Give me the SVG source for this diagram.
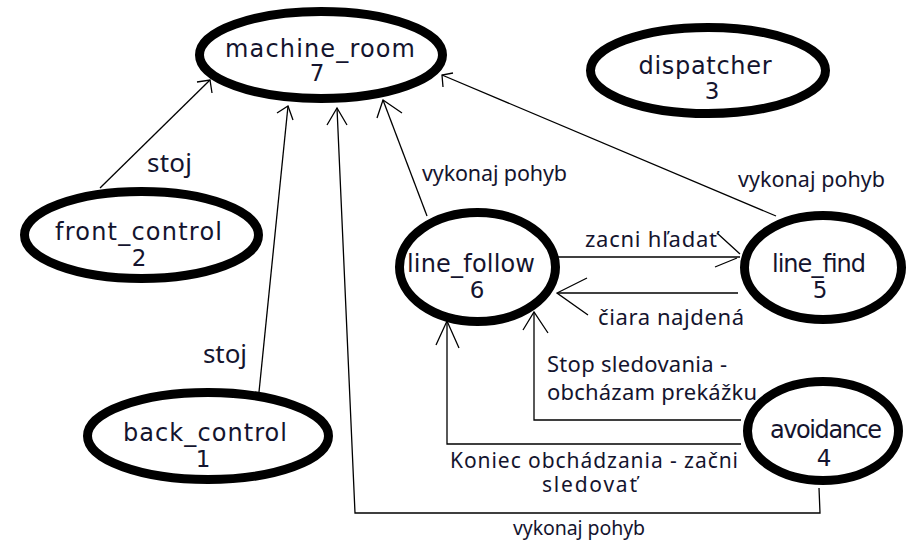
<svg xmlns="http://www.w3.org/2000/svg" width="911" height="540" viewBox="0 0 911 540">
  <style>
    .node { fill: #ffffff; stroke: #000000; stroke-width: 9; }
    .name { font-family: "DejaVu Sans", Verdana, sans-serif; font-size: 24px; fill: #14142e; text-anchor: middle; }
    .num { font-family: "DejaVu Sans", Verdana, sans-serif; font-size: 23px; fill: #14142e; text-anchor: middle; }
    .lbl { font-family: "Noto Sans", "DejaVu Sans", sans-serif; font-size: 22px; fill: #14142e; }
    .lbl.big { font-size: 26px; }
    .lbl.mid { font-size: 21.5px; }
    .lbl.tight { font-size: 21px; }
    .lbl.small { font-size: 19.5px; }
    .edge { fill: none; stroke: #000000; stroke-width: 1.3; }
  </style>
  <rect width="911" height="540" fill="#ffffff"/>

  <!-- connectors -->
  <g id="connectors">
    <!-- front_control -> machine_room -->
    <g id="e-front-machine">
      <path class="edge" d="M100,188 L210,80"/>
      <polyline class="edge" points="197,82 210,80 212,93"/>
      <text class="lbl big" x="147" y="172" textLength="45">stoj</text>
    </g>
    <!-- back_control -> machine_room -->
    <g id="e-back-machine">
      <path class="edge" d="M259,392 L288,106"/>
      <polyline class="edge" points="277,113 288,106 293,120"/>
      <text class="lbl big" x="203" y="363" textLength="44">stoj</text>
    </g>
    <!-- avoidance -> machine_room -->
    <g id="e-avoid-machine">
      <path class="edge" d="M819,488 L820,513 L355,513 L337,108"/>
      <polyline class="edge" points="327,125 337,108 347,125"/>
      <text class="lbl small" x="513" y="535" textLength="132">vykonaj pohyb</text>
    </g>
    <!-- line_follow -> machine_room -->
    <g id="e-follow-machine">
      <path class="edge" d="M427,216 L383,100"/>
      <polyline class="edge" points="377,118 383,100 402,113"/>
      <text class="lbl mid" x="422" y="181" textLength="145">vykonaj pohyb</text>
    </g>
    <!-- line_find -> machine_room -->
    <g id="e-find-machine">
      <path class="edge" d="M776,216 L442,75"/>
      <polyline class="edge" points="453,73 442,75 443,87"/>
      <text class="lbl mid" x="738" y="187" textLength="147">vykonaj pohyb</text>
    </g>
    <!-- line_follow -> line_find -->
    <g id="e-follow-find">
      <path class="edge" d="M558,257 L740,257"/>
      <path class="edge" d="M717,233 L740,254 M715,267 L737,258"/>
      <text class="lbl" x="585" y="247" textLength="132">zacni hľadať</text>
    </g>
    <!-- line_find -> line_follow -->
    <g id="e-find-follow">
      <path class="edge" d="M738,293 L558,293"/>
      <polyline class="edge" points="587,278 557,293 588,315"/>
      <text class="lbl" x="598" y="325" textLength="146">čiara najdená</text>
    </g>
    <!-- avoidance -> line_follow (stop) -->
    <g id="e-avoid-follow-stop">
      <path class="edge" d="M741,420 L534,420 L534,313"/>
      <polyline class="edge" points="523,330 534,312 548,333"/>
      <text class="lbl" x="547" y="372" textLength="180">Stop sledovania -</text>
      <text class="lbl" x="547" y="400" textLength="210">obcházam prekážku</text>
    </g>
    <!-- avoidance -> line_follow (resume) -->
    <g id="e-avoid-follow-resume">
      <path class="edge" d="M741,444 L447,444 L447,322"/>
      <polyline class="edge" points="436,345 447,321 459,348"/>
      <text class="lbl tight" x="450" y="468" textLength="288">Koniec obchádzania - začni</text>
      <text class="lbl tight" x="542" y="492" textLength="95">sledovať</text>
    </g>
  </g>

  <!-- nodes -->
  <g id="machine_room">
    <ellipse class="node" cx="321" cy="55" rx="121.5" ry="43.5"/>
    <text class="name" x="320" y="57" textLength="190">machine_room</text>
    <text class="num" x="317" y="81">7</text>
  </g>
  <g id="dispatcher">
    <ellipse class="node" cx="708" cy="70.5" rx="117.5" ry="43"/>
    <text class="name" x="705" y="74" textLength="133">dispatcher</text>
    <text class="num" x="712" y="99">3</text>
  </g>
  <g id="front_control">
    <ellipse class="node" cx="141.5" cy="235" rx="117" ry="43.5"/>
    <text class="name" x="138.5" y="240" textLength="167">front_control</text>
    <text class="num" x="139" y="266">2</text>
  </g>
  <g id="back_control">
    <ellipse class="node" cx="208" cy="436" rx="120.5" ry="43.5"/>
    <text class="name" x="205" y="441" textLength="164">back_control</text>
    <text class="num" x="203" y="467">1</text>
  </g>
  <g id="line_follow">
    <ellipse class="node" cx="477.5" cy="267" rx="78" ry="54.5"/>
    <text class="name" x="471" y="272" textLength="128">line_follow</text>
    <text class="num" x="477" y="298">6</text>
  </g>
  <g id="line_find">
    <ellipse class="node" cx="823" cy="267.5" rx="78.5" ry="52"/>
    <text class="name" x="819" y="272" textLength="94">line_find</text>
    <text class="num" x="820" y="298">5</text>
  </g>
  <g id="avoidance">
    <ellipse class="node" cx="823" cy="431" rx="75.5" ry="49.5"/>
    <text class="name" x="826" y="438" textLength="112">avoidance</text>
    <text class="num" x="824" y="466">4</text>
  </g>
</svg>
